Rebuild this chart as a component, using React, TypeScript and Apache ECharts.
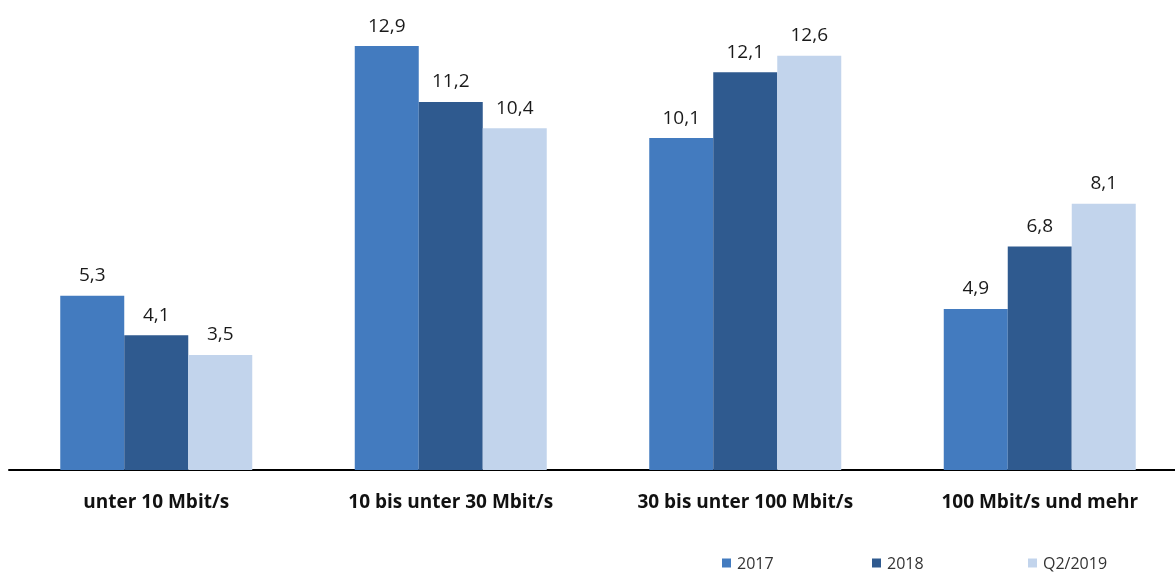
import React, { useEffect, useRef } from "react";
import * as echarts from "echarts";

const categories = [
  "unter 10 Mbit/s",
  "10 bis unter 30 Mbit/s",
  "30 bis unter 100 Mbit/s",
  "100 Mbit/s und mehr",
];
const values2017 = [5.3, 12.9, 10.1, 4.9];
const values2018 = [4.1, 11.2, 12.1, 6.8];
const valuesQ22019 = [3.5, 10.4, 12.6, 8.1];

const seriesNames = ["2017", "2018", "Q2/2019"];
const seriesColors = ["#437BBF", "#2F5A8F", "#C2D4EC"];
const legendLefts = [722, 872, 1028];

const FONT = "'Open Sans', sans-serif";

export default function App() {
  const ref = useRef<HTMLDivElement>(null);

  useEffect(() => {
    if (!ref.current) return;
    const chart = echarts.init(ref.current, null, { renderer: "svg" });
    const data = [values2017, values2018, valuesQ22019];
    chart.setOption({
      animation: false,
      textStyle: { fontFamily: FONT },
      grid: { left: 9, right: 0, top: 0, bottom: 106 },
      legend: seriesNames.map((name, i) => ({
        left: legendLefts[i],
        top: 555,
        padding: 0,
        itemWidth: 9,
        itemHeight: 9,
        itemGap: 0,
        icon: "rect",
        textStyle: {
          fontSize: 16,
          lineHeight: 16,
          color: "#333",
          fontFamily: FONT,
          padding: [0, 0, 0, 1],
        },
        data: [name],
      })),
      xAxis: {
        type: "category",
        data: categories,
        axisLine: { lineStyle: { color: "#000", width: 2 } },
        axisTick: { show: false },
        axisLabel: {
          margin: 21,
          fontSize: 19,
          fontWeight: "bold",
          color: "#111",
          fontFamily: FONT,
        },
      },
      yAxis: {
        type: "value",
        min: 0,
        max: 14.3,
        show: false,
        splitLine: { show: false },
      },
      series: seriesNames.map((name, i) => ({
        name,
        type: "bar",
        data: data[i],
        barWidth: 64,
        barGap: "0%",
        itemStyle: { color: seriesColors[i] },
        label: {
          show: true,
          position: "top",
          distance: 12,
          fontSize: 19,
          color: "#1a1a1a",
          fontFamily: FONT,
          formatter: (p: any) => String(p.value).replace(".", ","),
        },
      })),
    });
    return () => chart.dispose();
  }, []);

  return (
    <div
      style={{
        position: "fixed",
        left: 0,
        top: 0,
        width: 1175,
        height: 576,
        overflow: "hidden",
      }}
    >
      <div ref={ref} style={{ width: 1187, height: 576 }} />
    </div>
  );
}
